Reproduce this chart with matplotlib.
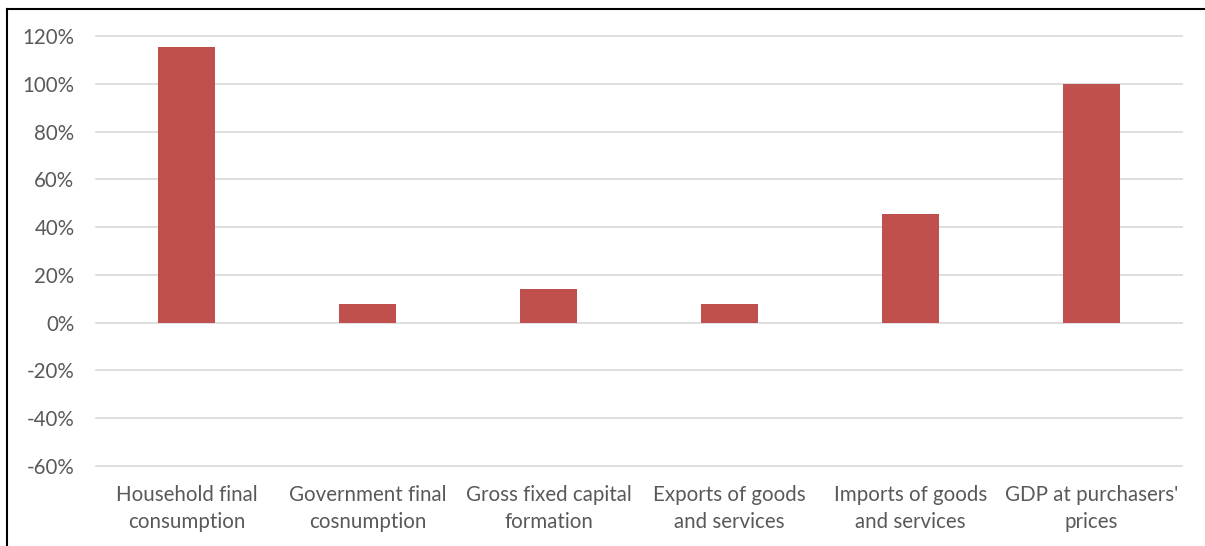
import matplotlib.pyplot as plt
from matplotlib.lines import Line2D
from matplotlib.ticker import FuncFormatter

categories = ["Household final\nconsumption", "Government final\ncosnumption",
              "Gross fixed capital\nformation", "Exports of goods\nand services",
              "Imports of goods\nand services", "GDP at purchasers'\nprices"]
values = [115.3, 7.8, 14.3, 7.7, 45.4, 100.0]
yticks = [-60, -40, -20, 0, 20, 40, 60, 80, 100, 120]

plt.rcParams['font.family'] = ['Lato', 'DejaVu Sans']

fig = plt.figure(figsize=(12.05, 5.46), dpi=100)
ax = fig.add_axes([96 / 1205, 80 / 546, 1086 / 1205, 430 / 546])

x = range(len(categories))
ax.bar(x, values, width=0.315, color='#c0504d', zorder=3)

ax.set_xlim(-0.5, len(categories) - 0.5)
ax.set_ylim(-60, 120)
ax.set_yticks(yticks)
ax.yaxis.set_major_formatter(FuncFormatter(lambda v, p: f"{v:.0f}%"))
ax.set_xticks(list(x))
ax.set_xticklabels(categories, linespacing=1.4)

ax.grid(axis='y', color='#d9d9d9', linewidth=1.2, zorder=0)
for gl in ax.get_ygridlines():
    gl.set_clip_on(False)
ax.set_axisbelow(True)

for s in ax.spines.values():
    s.set_visible(False)
ax.tick_params(axis='both', length=0, colors='#595959', labelsize=14.8)
ax.tick_params(axis='y', pad=15.5)
ax.tick_params(axis='x', pad=14)

# outer frame (top and left)
fig.add_artist(Line2D([7.5 / 1205, 1], [1 - 8.5 / 546, 1 - 8.5 / 546],
                      color='black', linewidth=1.5, transform=fig.transFigure))
fig.add_artist(Line2D([7.5 / 1205, 7.5 / 1205], [0, 1 - 8.5 / 546],
                      color='black', linewidth=1.5, transform=fig.transFigure))

fig.savefig('out.png', dpi=100)
